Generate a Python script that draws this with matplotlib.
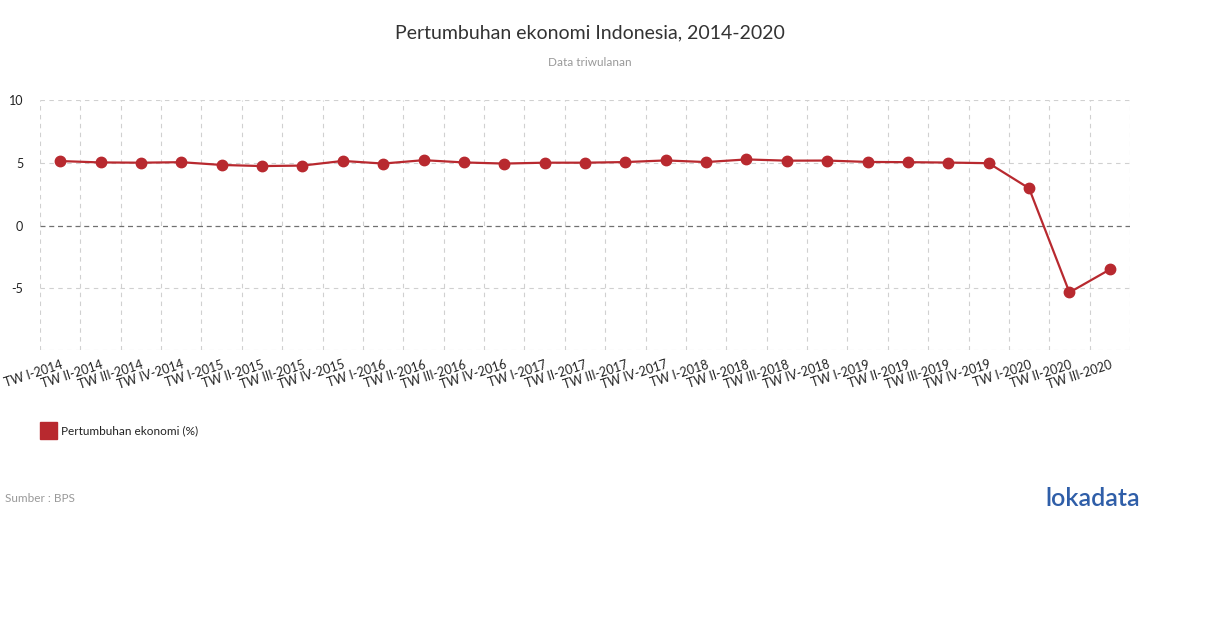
import matplotlib.pyplot as plt
import matplotlib.patches as mpatches

plt.rcParams['font.family'] = ['Lato', 'DejaVu Sans']

quarters = ['TW I', 'TW II', 'TW III', 'TW IV']
years = [2014, 2015, 2016, 2017, 2018, 2019, 2020]
labels = [f'{q}-{y}' for y in years for q in quarters][:27]

growth = [5.14, 5.03, 5.01, 5.05,
          4.83, 4.74, 4.78, 5.15,
          4.94, 5.21, 5.03, 4.94,
          5.01, 5.01, 5.06, 5.19,
          5.06, 5.27, 5.17, 5.18,
          5.07, 5.05, 5.02, 4.97,
          2.97, -5.32, -3.49]

red = '#b8292f'
W, H = 1210, 628
fig = plt.figure(figsize=(W / 100, H / 100), dpi=100)
ax = fig.add_axes([40 / W, (H - 350) / H, 1090 / W, 250 / H])

x = list(range(len(labels)))
ax.plot(x, growth, color=red, lw=1.6, marker='o', ms=7.5, zorder=3)

ymin, ymax = -9.9, 10
ax.set_xlim(-0.5, len(labels) - 0.5)
ax.set_ylim(ymin, ymax)
ax.set_yticks([-5, 0, 5, 10])
ax.set_yticklabels(['-5', '0', '5', '10'], fontsize=9, color='#222')
ax.set_xticks(x)
ax.set_xticklabels(labels, rotation=18, ha='right', rotation_mode='anchor',
                   fontsize=9, color='#222')
ax.tick_params(length=0)
ax.tick_params(axis='x', pad=6)
ax.tick_params(axis='y', pad=12)

# grid
for b in range(len(labels) + 1):
    ax.axvline(b - 0.5, color='#d0d0d0', lw=0.8, ls=(0, (4, 4)), zorder=1)
for yv in [5, 10, -5, ymin]:
    ax.axhline(yv, color='#d0d0d0', lw=0.8, ls=(0, (4, 4)), zorder=1)
ax.axhline(0, color='#707070', lw=0.9, ls=(0, (4, 3)), zorder=2)
for s in ax.spines.values():
    s.set_visible(False)

fig.text(590 / W, 1 - 33 / H, 'Pertumbuhan ekonomi Indonesia, 2014-2020',
         ha='center', va='center', fontsize=14, color='#333')
fig.text(590 / W, 1 - 62 / H, 'Data triwulanan', ha='center', va='center',
         fontsize=8.5, color='#999')

fig.patches.append(mpatches.Rectangle((40 / W, 1 - 439 / H), 17 / W, 17 / H,
                                      transform=fig.transFigure, color=red))
fig.text(61 / W, 1 - 431 / H, 'Pertumbuhan ekonomi (%)', ha='left', va='center',
         fontsize=8.5, color='#222')

fig.text(5 / W, 1 - 498 / H, 'Sumber : BPS', ha='left', va='center',
         fontsize=8.5, color='#999')
fig.text(1140 / W, 1 - 499 / H, 'lokadata', ha='right', va='center',
         fontsize=18, fontweight='semibold', color='#2f5ea8')

fig.savefig('out.png', dpi=100)
